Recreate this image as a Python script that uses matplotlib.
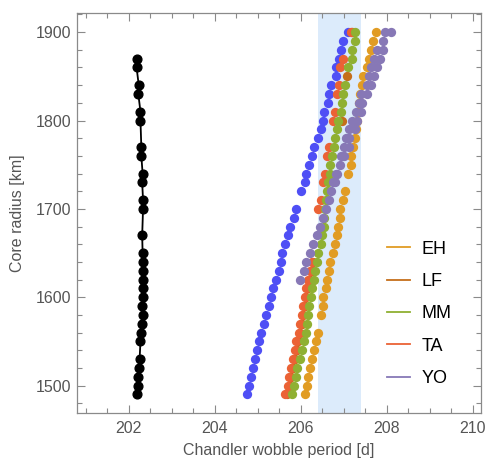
import numpy as np
import matplotlib
matplotlib.use("Agg")
import matplotlib.pyplot as plt
from matplotlib.lines import Line2D
from matplotlib.ticker import MultipleLocator

plt.rcParams['font.family'] = ['Liberation Sans', 'DejaVu Sans']

nan = np.nan

# core radius grid [km]
radii = [1490, 1500, 1510, 1520, 1530, 1540, 1550, 1560, 1570, 1580,
         1590, 1600, 1610, 1620, 1630, 1640, 1650, 1660, 1670, 1680,
         1690, 1700, 1710, 1720, 1730, 1740, 1750, 1760, 1770, 1780,
         1790, 1800, 1810, 1820, 1830, 1840, 1850, 1860, 1870, 1880,
         1890, 1900]

# Chandler wobble period [d] per model (nan = no point)
black = [202.20, 202.22, 202.22, 202.23, 202.25, nan, 202.27, 202.29, 202.30, 202.32,
         202.31, 202.33, 202.33, 202.32, 202.33, 202.34, 202.32, nan, 202.31, nan,
         nan, 202.33, 202.33, nan, 202.31, 202.32, nan, 202.29, 202.29, nan,
         nan, 202.27, 202.27, nan, 202.22, 202.23, nan, 202.18, 202.19, nan,
         nan, nan]

blue = [204.75, 204.80, 204.84, 204.88, 204.94, 204.97, 205.03, 205.08, 205.14, 205.20,
        205.26, 205.30, 205.36, 205.42, 205.50, 205.55, 205.57, 205.64, 205.71, 205.74,
        205.84, 205.88, nan, 206.01, 206.10, 206.12, 206.19, 206.26, 206.30, 206.40,
        206.46, 206.52, 206.55, 206.63, 206.65, 206.71, 206.81, 206.81, 206.89, 206.94,
        206.98, 207.09]

eh = [206.10, 206.15, 206.17, 206.21, 206.25, 206.31, 206.36, 206.39, nan, 206.48,
      206.52, 206.52, 206.58, 206.60, 206.65, 206.69, 206.74, 206.79, 206.83, 206.87,
      206.91, 206.92, 206.97, 207.02, nan, 207.10, 207.16, 207.16, 207.22, 207.27,
      207.28, 207.30, 207.32, 207.35, 207.37, 207.43, 207.45, 207.53, 207.59, 207.63,
      207.68, 207.74]

lf = [205.68, 205.74, 205.77, 205.82, 205.86, 205.90, 205.93, 205.99, 206.02, 206.06,
      206.09, 206.13, 206.17, 206.21, 206.25, 206.29, nan, nan, nan, nan,
      nan, nan, nan, nan, nan, nan, nan, nan, nan, nan,
      nan, 206.95, nan, nan, nan, nan, 207.08, nan, nan, nan,
      nan, 207.20]

ta = [205.64, 205.71, 205.72, 205.78, 205.82, 205.86, 205.88, 205.95, 205.98, 206.02,
      206.05, 206.09, 206.13, 206.17, 206.21, 206.25, nan, nan, nan, nan,
      nan, 206.40, 206.46, nan, 206.51, 206.56, nan, 206.60, 206.66, nan,
      nan, 206.74, 206.79, nan, 206.83, 206.89, nan, 206.91, 206.98, nan,
      nan, 207.17]

mm = [205.80, 205.84, 205.88, 205.92, 205.98, 206.03, 206.08, 206.11, 206.15, 206.17,
      206.19, 206.23, 206.26, 206.31, 206.33, 206.37, 206.40, 206.46, 206.50, 206.53,
      206.55, 206.56, 206.58, 206.60, 206.64, 206.67, 206.69, 206.73, 206.77, 206.80,
      206.85, 206.87, 206.93, 206.95, 206.98, 207.03, nan, 207.10, 207.18, 207.18,
      207.26, 207.27]

yo_a = [nan, nan, nan, nan, nan, nan, nan, nan, nan, nan,
        nan, nan, nan, 205.98, 206.08, 206.13, 206.21, 206.29, 206.37, 206.44,
        206.52, 206.58, 206.66, 206.71, 206.75, 206.81, 206.90, 206.94, 207.00, 207.06,
        207.13, 207.19, 207.29, 207.35, 207.41, 207.53, 207.58, 207.64, 207.70, 207.77,
        207.91, 207.95]

yo_b = [nan, nan, nan, nan, nan, nan, nan, nan, nan, nan,
        nan, nan, nan, nan, nan, nan, nan, nan, nan, nan,
        nan, nan, nan, nan, 206.80, 206.85, nan, 207.01, 207.12, 207.11,
        207.26, 207.30, 207.40, 207.43, 207.53, 207.63, 207.70, 207.77, 207.84, 207.90,
        nan, 208.09]

band = (206.40, 207.41)

labels = ["EH", "LF", "MM", "TA", "YO"]
colors = {"EH": "#e19c24", "LF": "#c56e1a", "MM": "#8fb032",
          "TA": "#eb6235", "YO": "#8778b6"}
blue_color = "#4f4ff5"

grey = "#555555"
frame = "#8a8a8a"

fig = plt.figure(figsize=(4.89, 4.62), dpi=100)
ax = fig.add_axes([0.158, 0.106, 0.8256, 0.8665])

ax.axvspan(band[0], band[1], color="#dcebfb", lw=0, zorder=0)

r = np.array(radii, dtype=float)
ms = 6.7

b = np.array(black)
ok = ~np.isnan(b)
ax.plot(b[ok], r[ok], "-o", color="black", lw=1.3, ms=6.3, zorder=3)

ax.plot(blue, r, "o", color=blue_color, ms=ms, mec="none", zorder=2)
ax.plot(eh, r, "o", color=colors["EH"], ms=ms, mec="none", zorder=2)
ax.plot(lf, r, "o", color=colors["LF"], ms=ms, mec="none", zorder=2)
ax.plot(ta, r, "o", color=colors["TA"], ms=ms, mec="none", zorder=2)
ax.plot(mm, r, "o", color=colors["MM"], ms=ms, mec="none", zorder=2)
ax.plot(yo_b, r, "o", color=colors["YO"], ms=ms, mec="none", zorder=2)
ax.plot(yo_a, r, "o", color=colors["YO"], ms=ms, mec="none", zorder=2)

ax.set_xlim(200.8, 210.19)
ax.set_ylim(1469, 1922)

ax.xaxis.set_major_locator(MultipleLocator(2))
ax.xaxis.set_minor_locator(MultipleLocator(0.5))
ax.yaxis.set_major_locator(MultipleLocator(100))
ax.yaxis.set_minor_locator(MultipleLocator(20))

ax.tick_params(which="both", direction="in", top=True, right=True,
               color=frame, labelcolor=grey, labelsize=11.5, width=0.8)
ax.tick_params(which="major", length=6)
ax.tick_params(which="minor", length=3.5)
ax.tick_params(axis="x", pad=6)
ax.tick_params(axis="y", pad=4)

for s in ax.spines.values():
    s.set_color(frame)
    s.set_linewidth(0.9)

ax.set_xlabel("Chandler wobble period [d]", color=grey, fontsize=11.5, labelpad=5)
ax.set_ylabel("Core radius [km]", color=grey, fontsize=11.5, labelpad=8)

handles = [Line2D([0], [0], color=colors[k], lw=1.3) for k in labels]
ax.legend(handles, labels, loc="center left", bbox_to_anchor=(0.766, 0.248),
          frameon=False, borderpad=0, borderaxespad=0, fontsize=13,
          handlelength=1.3, handletextpad=0.65, labelspacing=0.85)

fig.savefig("out.png", dpi=100)
